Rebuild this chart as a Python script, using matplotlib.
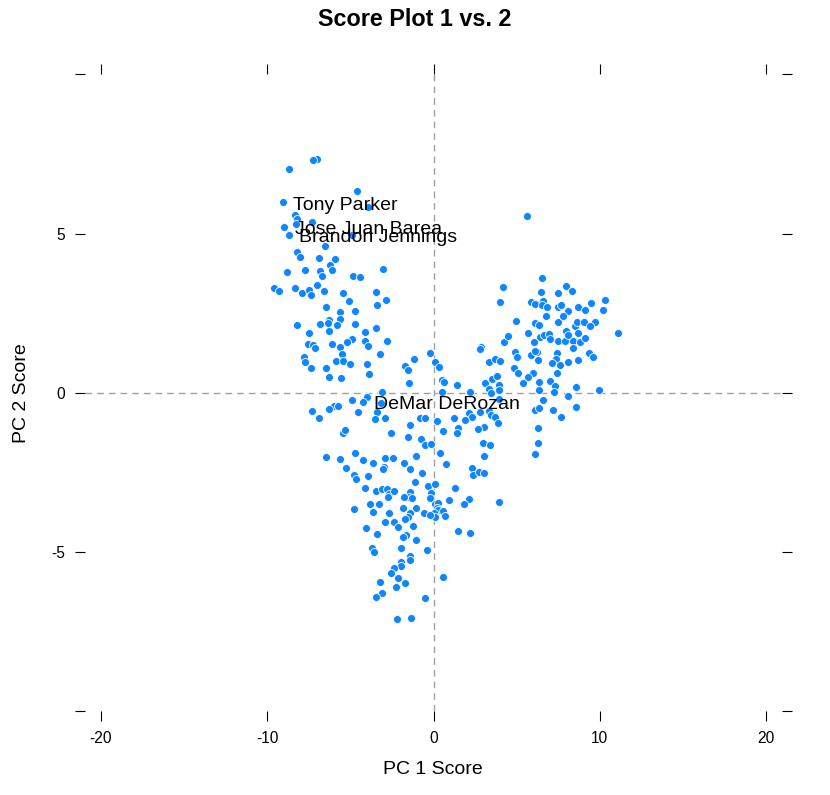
import matplotlib
matplotlib.use('Agg')
import matplotlib.pyplot as plt

plt.rcParams['font.family'] = ['Liberation Sans', 'DejaVu Sans']
plt.rcParams['axes.unicode_minus'] = False

# PC scores
pc1 = [
    -7.01, -7.25, -8.68, -4.57, -9.06, -3.94, -8.30, -8.21, -8.26, -7.31,
    -8.96, -8.69, -4.91, -6.55, -8.18, -8.02, -6.87, -5.91, -6.25, -6.11,
    -8.82, -7.73, -6.81, -6.71, -4.85, -4.41, -3.01, -9.58, -9.28, -8.32,
    -7.91, -7.47, -7.34, -7.01, -6.61, -5.45, -3.46, -2.84, -5.09, -6.45,
    -3.37, -5.61, -4.69, -6.29, -6.37, -5.61, -6.83, -5.81, -8.21, -4.69,
    -3.46, -7.46, -6.31, -4.12, -4.91, -5.23, -4.12, -2.77, -7.52, -7.22,
    -7.13, -6.11, -5.61, -3.94, -5.49, -3.21, -7.76, -7.70, -5.89, -5.45,
    -4.99, -3.99, -7.37, -6.49, -3.88, -6.31, -5.55, -1.70, -1.56, -1.48,
    -3.07, -3.99, -4.21, -4.87, -6.01, -5.73, -6.27, -7.31, -6.87,
    -4.51, -3.40, -3.49, -2.89, -3.16, -1.44, -0.80, -0.50, 0.20, -2.54,
    -5.45, -5.31, -1.56, -0.74, -0.54, -0.16, -4.71, -6.45, -5.65, -4.21,
    -2.90, -2.41, -1.04, -1.20, -0.24, 0.10, 0.34, 2.87, 2.77, 4.21,
    3.31, 3.71, 4.01, 4.87, 5.01, 5.87, 6.22, 4.81, 5.08, 6.01,
    5.71, 5.35, 0.51, 0.66, 1.41, 3.11, 3.51, 3.81, 3.31, 3.47,
    3.91, 0.51, 2.21, 3.95, 2.81, 3.31, 3.45, 2.16, 2.31, 1.91,
    1.24, 3.71, 3.85, 3.05, 2.65, 1.50, 1.44, 0.60, 2.97, 3.41,
    3.01, 0.40, 0.75, 2.31, 2.37, 2.71, 3.05, -0.70, -0.36, 0.10,
    1.30, 6.12, 6.12, 6.37, 6.31, 6.31, 4.97, 6.12, 6.34, 7.46,
    8.48, 8.62, 9.02, 9.72, 9.42, 4.45, 5.68, 6.42, 6.66,
    6.92, 6.98, 6.07, 7.46, 7.92, 7.98, 8.06, 8.38, 8.38, 8.70,
    8.82, 9.08, 11.09, 6.12, 7.42, 7.38, 9.32, 9.58, 6.31, 7.10,
    7.58, 8.06, 8.68, 7.42, 6.34, 6.98, 7.28, 8.54, 9.96, 6.37,
    7.24, 3.91, 6.58, 8.06, 7.18, 8.54, 7.68, 5.62, 6.52,
    4.17, 7.96, 6.48, 7.46, 8.32, 4.01, 5.87, 6.12, 6.61, 6.52,
    6.85, 7.46, 7.68, 8.66, 9.44, 10.32, 10.16, 9.08, 8.10, 6.76,
    7.78, -5.25, -3.61, -2.95, -3.04, -1.80,
    -1.40, -4.75, -4.67, -3.91, -1.14, -4.11, -3.45, -3.10, -2.80, -2.66,
    -2.71, -2.36, -1.40, -1.50, -1.30, -0.14, -0.20, -1.76, 0.96, 2.16,
    1.85, -3.81, -3.25, -4.77, -1.86, -1.06, 0.10, 0.24, 0.20, 0.30,
    0.60, 0.72, 0.00, 0.10, -0.56, -0.24, -3.64, -2.65, -1.40, -1.54,
    -1.70, -2.90, -2.36, -2.14, -1.26, -4.03, -3.40, -1.64, -1.84, 1.49,
    2.22, -1.08, -3.69, -3.57, -1.94, -0.38, -1.40, -1.44, -1.94, -1.94,
    -2.36, -2.56, -2.12, -1.70, -3.19, 0.60, -2.24, -3.08, -3.45, -0.54,
    -2.22, -1.38, 3.91,
]

pc2 = [
    7.36, 7.30, 7.03, 6.34, 5.98, 5.84, 5.60, 5.46, 5.29, 5.37,
    5.21, 4.95, 4.95, 4.62, 4.41, 4.27, 4.22, 4.19, 4.01, 3.85,
    3.80, 3.85, 3.83, 3.67, 3.68, 3.63, 3.89, 3.28, 3.20, 3.28,
    3.12, 3.24, 3.07, 3.38, 3.20, 3.12, 3.15, 2.92, 2.88, 2.69,
    2.75, 2.54, 2.58, 2.27, 2.18, 2.31, 2.15, 2.13, 2.13, 2.16,
    2.02, 1.87, 1.94, 1.90, 1.69, 1.58, 1.62, 1.63, 1.53, 1.50,
    1.39, 1.54, 1.43, 1.48, 1.22, 1.21, 1.13, 0.97, 1.01, 1.00,
    0.90, 0.89, 0.78, 0.78, 0.60, 0.48, 0.46, 0.85, 0.71, 0.32,
    0.01, -0.14, -0.28, -0.24, -0.42, -0.42, -0.50, -0.57, -0.79,
    -0.60, -0.60, -0.84, -0.79, -0.31, -1.01, -0.78, -0.78, -0.89, -1.26,
    -1.28, -1.17, -1.38, -1.45, -1.64, -1.61, -1.90, -2.01, -2.08, -2.11,
    -2.06, -2.06, -1.99, 1.06, 1.24, 0.97, 0.82, 1.44, 1.36, 1.60,
    0.97, 1.06, 1.01, 1.29, 1.11, 1.18, 1.29, 0.77, 0.63, 0.61,
    0.50, 0.30, 0.40, 0.34, 0.24, 0.30, 0.42, 0.52, 0.11, -0.02,
    0.24, 0.03, 0.01, 0.08, -0.60, -0.57, -0.70, -0.63, -0.75, -0.86,
    -0.80, -0.77, -0.94, -1.07, -1.15, -1.12, -1.26, -1.19, -1.59, -1.64,
    -1.99, -1.90, -2.25, -2.36, -2.59, -2.48, -2.53, -2.51, -2.92, -2.87,
    -3.00, -1.93, -0.54, -0.49, -1.12, -1.59, 2.25, 2.18, 2.13, 2.23,
    2.10, 2.23, 2.23, 2.23, 2.10, 1.79, 1.87, 1.76, 1.81,
    1.84, 1.68, 1.59, 1.61, 1.63, 1.95, 1.81, 1.63, 1.39, 1.87,
    1.60, 1.71, 1.87, 1.31, 1.24, 1.05, 1.24, 1.11, 1.03, 0.94,
    0.87, 0.96, 1.03, 0.63, 0.35, 0.38, 0.22, 0.17, 0.08, 0.08,
    0.03, -0.20, -0.23, -0.10, -0.54, -0.46, -0.77, 5.55, 3.59,
    3.31, 3.36, 3.15, 3.13, 3.19, 2.86, 2.86, 2.79, 2.89, 2.75,
    2.70, 2.70, 2.75, 2.69, 2.83, 2.90, 2.61, 2.59, 2.57, 2.42,
    2.40, -2.36, -2.22, -2.32, -2.40, -2.22,
    -2.40, -2.59, -2.71, -2.62, -2.81, -2.99, -3.09, -3.03, -3.03, -3.19,
    -3.27, -3.09, -3.11, -3.27, -3.30, -3.16, -3.32, -3.29, -3.37, -3.35,
    -3.51, -3.51, -3.50, -3.65, -3.61, -3.63, -3.51, -3.47, -3.63, -3.68,
    -3.72, -3.87, -3.79, -3.89, -3.79, -3.84, -3.76, -3.77, -3.77, -3.89,
    -3.97, -4.07, -4.05, -4.23, -4.19, -4.25, -4.44, -4.47, -4.52, -4.34,
    -4.40, -4.63, -4.87, -5.01, -4.87, -4.93, -5.12, -5.25, -5.31, -5.44,
    -5.52, -5.65, -5.83, -5.97, -5.94, -5.78, -6.12, -6.30, -6.41, -6.46,
    -7.12, -7.09, -3.44,
]

label_names = ['Tony Parker', 'Jose Juan Barea', 'Brandon Jennings', 'DeMar DeRozan']
label_pc1 = [-9.06, -8.96, -8.69, -4.21]
label_pc2 = [5.98, 5.21, 4.95, -0.28]

x_ticks = [-20, -10, 0, 10, 20]
y_ticks = [-10, -5, 0, 5, 10]
y_tick_labels = ['', '-5', '0', '5', '']

fig = plt.figure(figsize=(8.3, 7.95), dpi=100)
ax = fig.add_axes([0.1024, 0.1055, 0.8398, 0.801])

# reference lines
ax.axhline(0, color='#a0a0a0', lw=1.0, dashes=(4.8, 3.6), zorder=1)
ax.axvline(0, color='#a0a0a0', lw=1.0, dashes=(4.8, 3.6), zorder=1)

ax.scatter(pc1, pc2, s=33, c='#0f86ff', edgecolors='white', linewidths=0.6, zorder=2)

for name, x, y in zip(label_names, label_pc1, label_pc2):
    ax.annotate(name, (x, y), xytext=(7.5, -2), textcoords='offset points',
                ha='left', va='center', fontsize=14, zorder=3)

ax.set_xlim(-20.95, 20.95)
ax.set_ylim(-10.005, 10.005)
for s in ax.spines.values():
    s.set_visible(False)

ax.set_xticks(x_ticks)
ax.set_yticks(y_ticks)
ax.set_yticklabels(y_tick_labels)
ax.tick_params(direction='out', length=7.5, width=0.8, labelsize=11.2, pad=7,
               top=True, right=True)

fig.text(433 / 830, 1 - 769 / 795, 'PC 1 Score', ha='center', va='center', fontsize=14)
fig.text(21 / 830, 1 - 393 / 795, 'PC 2 Score', ha='center', va='center',
         rotation=90, fontsize=14)
fig.suptitle('Score Plot 1 vs. 2', fontweight='bold', fontsize=16.8,
             y=1 - 19 / 795, va='center')

fig.savefig('out.png', dpi=100)
